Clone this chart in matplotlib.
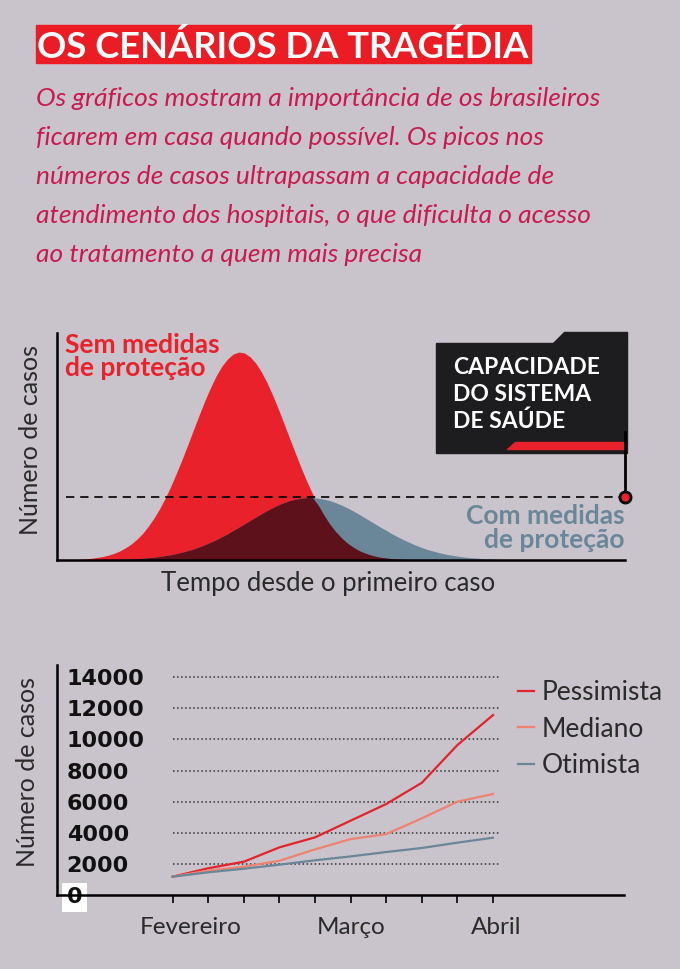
import numpy as np
import matplotlib.pyplot as plt
from matplotlib.patches import Rectangle, Polygon

plt.rcParams['font.family'] = ['Lato', 'DejaVu Sans']

# --- dados do grafico conceitual (curvas) ---
tempo = list(range(4, 79))
sem_medidas = [0.3, 0.5, 0.75, 1.1, 1.5, 2.1, 2.9, 3.9, 5.3, 6.9, 9.0, 11.5, 14.6, 18.2,
               22.3, 27.0, 32.3, 38.1, 44.2, 50.6, 57.2, 63.7, 70.0, 75.8, 81.0, 85.3,
               88.5, 90.7, 91.6, 91.2, 89.5, 86.7, 82.8, 78.0, 72.4, 66.3, 59.8, 53.3,
               46.8, 40.5, 34.5, 29.1, 24.1, 19.8, 15.9, 12.7, 10.0, 7.7, 5.9, 4.4, 3.3,
               2.4, 1.7, 1.2, 0.9, 0.6, 0.4, 0.3, 0.2, 0.1, 0.1,
               0, 0, 0, 0, 0, 0, 0, 0, 0, 0, 0, 0, 0, 0]
com_medidas = [0, 0, 0, 0.1, 0.1, 0.15, 0.2, 0.27, 0.35, 0.46, 0.6, 0.75, 1.0, 1.2, 1.5,
               1.9, 2.3, 2.8, 3.4, 4.1, 4.8, 5.7, 6.7, 7.8, 8.9, 10.2, 11.5, 13.0, 14.4,
               15.9, 17.4, 18.9, 20.4, 21.8, 23.1, 24.3, 25.3, 26.2, 26.8, 27.2, 27.5,
               27.5, 27.2, 26.8, 26.2, 25.3, 24.3, 23.1, 21.8, 20.4, 18.9, 17.4, 15.9,
               14.4, 13.0, 11.5, 10.2, 8.9, 7.8, 6.7, 5.7, 4.8, 4.1, 3.4, 2.8, 2.3, 1.9,
               1.5, 1.2, 1.0, 0.8, 0.6, 0.5, 0.35, 0.2]
capacidade = 27.8

# --- dados do grafico de cenarios ---
semanas = list(range(10))
pessimista = [1200, 1740, 2160, 3080, 3720, 4790, 5860, 7220, 9640, 11560]
mediano = [1200, 1590, 1840, 2220, 2950, 3610, 3930, 4940, 6010, 6500]
otimista = [1200, 1480, 1710, 1970, 2250, 2500, 2780, 3040, 3380, 3700]
yticks = [0, 2000, 4000, 6000, 8000, 10000, 12000, 14000]
meses = ['Fevereiro', 'Março', 'Abril']
meses_pos = [0.5, 5, 9.1]

BG = '#c9c3cb'
RED = '#e8212b'
BLUE = '#6a8699'
DARK = '#5d111a'
TXT = '#2a2a2a'

W, H = 680, 969
def fx(px):
    return px / W
def fy(py):
    return 1 - py / H

fig = plt.figure(figsize=(6.8, 9.69), dpi=100, facecolor=BG)

# titulo
fig.patches.append(Rectangle((fx(36), fy(63)), fx(531) - fx(36), (63 - 25) / H,
                             transform=fig.transFigure, color='#ec1c24'))
fig.text(fx(37), fy(58), 'OS CENÁRIOS DA TRAGÉDIA', color='white', fontsize=26.2,
         fontweight='bold', va='baseline')

subtitulo = ['Os gráficos mostram a importância de os brasileiros',
             'ficarem em casa quando possível. Os picos nos',
             'números de casos ultrapassam a capacidade de',
             'atendimento dos hospitais, o que dificulta o acesso',
             'ao tratamento a quem mais precisa']
for i, linha in enumerate(subtitulo):
    fig.text(fx(36), fy(106 + 38.9 * i), linha, color='#c91a4f', fontsize=19,
             style='italic', fontweight='normal', va='baseline')

# --- grafico de cima ---
ax1 = fig.add_axes([fx(57), fy(560), fx(625) - fx(57), (560 - 333) / H])
ax1.patch.set_alpha(0)
ax1.set_xlim(0, 100)
ax1.set_ylim(0, 100)
ax1.fill_between(tempo, sem_medidas, color=RED, lw=0)
ax1.fill_between(tempo, com_medidas, color=BLUE, lw=0)
ax1.fill_between(tempo, np.minimum(sem_medidas, com_medidas), color=DARK, lw=0)
for s in ['top', 'right']:
    ax1.spines[s].set_visible(False)
for s in ['left', 'bottom']:
    ax1.spines[s].set_linewidth(1.8)
ax1.set_xticks([])
ax1.set_yticks([])

ax1.plot([1.5, 100], [capacidade, capacidade], color='k', lw=1.2, ls=(0, (5, 3.5)),
         clip_on=False, zorder=4)

# caixa da capacidade
caixa = [Rectangle((fx(436), fy(453)), fx(627) - fx(436), (453 - 343) / H),
         Polygon([(fx(564), fy(332)), (fx(627), fy(332)), (fx(627), fy(343)), (fx(553), fy(343))])]
for p in caixa:
    p.set_transform(fig.transFigure)
    p.set_color('#1d1d1f')
    p.set_clip_on(False)
    p.set_zorder(3)
    ax1.add_patch(p)
faixa = Polygon([(fx(515), fy(441.7)), (fx(624), fy(441.7)), (fx(624), fy(448.5)), (fx(507), fy(448.5))],
                transform=fig.transFigure, color=RED, clip_on=False, zorder=3.5)
ax1.add_patch(faixa)
ax1.plot([100, 100], [capacidade, (560 - 432) / 2.27], color='k', lw=2, clip_on=False, zorder=5)
ax1.plot([100], [capacidade], 'o', ms=8, mfc=RED, mec='k', mew=2, clip_on=False, zorder=6)

for i, linha in enumerate(['CAPACIDADE', 'DO SISTEMA', 'DE SAÚDE']):
    fig.text(fx(453), fy(374.3 + 26.7 * i), linha, color='white', fontsize=16.5,
             fontweight='bold', va='baseline', zorder=10)

fig.text(fx(65), fy(353.3), 'Sem medidas', color=RED, fontsize=19, fontweight='bold', va='baseline')
fig.text(fx(65), fy(375.5), 'de proteção', color=RED, fontsize=19, fontweight='bold', va='baseline')
fig.text(fx(625), fy(524), 'Com medidas', color=BLUE, fontsize=19, fontweight='bold',
         va='baseline', ha='right')
fig.text(fx(625), fy(547.5), 'de proteção', color=BLUE, fontsize=19, fontweight='bold',
         va='baseline', ha='right')

fig.text(fx(31), fy(440), 'Número de casos', color=TXT, fontsize=18, rotation=90,
         ha='center', va='center')
fig.text(fx(328), fy(590.7), 'Tempo desde o primeiro caso', color=TXT, fontsize=18.5,
         ha='center', va='baseline')

# --- grafico de baixo ---
ax2 = fig.add_axes([fx(57), fy(895.4), fx(624) - fx(57), (895.4 - 665) / H])
ax2.patch.set_alpha(0)
ax2.set_xlim(-3.25, 12.68)
ax2.set_ylim(0, 14770)
for s in ['top', 'right']:
    ax2.spines[s].set_visible(False)
for s in ['left', 'bottom']:
    ax2.spines[s].set_linewidth(1.8)

ax2.hlines(yticks[1:], 0, 9.2, colors='#333333', linestyles=':', lw=1.1)
ax2.plot(semanas, pessimista, color='#e3232b', lw=1.6, label='Pessimista')
ax2.plot(semanas, mediano, color='#ee8270', lw=1.6, label='Mediano')
ax2.plot(semanas, otimista, color=BLUE, lw=1.6, label='Otimista')

ax2.xaxis.remove_overlapping_locs = False
ax2.set_xticks(semanas)
ax2.set_xticklabels([])
ax2.tick_params(axis='x', which='major', length=5.5, width=1.2, color='k')
ax2.set_xticks(meses_pos, labels=meses, minor=True)
ax2.tick_params(axis='x', which='minor', length=0, pad=15.5, labelsize=17.5, labelcolor=TXT)

ax2.set_yticks(yticks)
ax2.set_yticklabels([str(v) for v in yticks], fontweight='bold', family='DejaVu Sans')
ax2.tick_params(axis='y', length=0, pad=-7, labelsize=16, labelcolor='#111111')
for lab in ax2.get_yticklabels():
    lab.set_horizontalalignment('left')
ax2.get_yticklabels()[0].set_bbox(dict(facecolor='white', edgecolor='none', pad=3))

ax2.legend(loc='upper left', bbox_to_anchor=(fx(518), fy(680)), bbox_transform=fig.transFigure,
           frameon=False, fontsize=19, handlelength=0.62, handletextpad=0.28,
           labelspacing=0.44, borderpad=0, borderaxespad=0, labelcolor=TXT)

fig.text(fx(28), fy(772), 'Número de casos', color=TXT, fontsize=18, rotation=90,
         ha='center', va='center')

fig.savefig('out.png', dpi=100, facecolor=BG)
